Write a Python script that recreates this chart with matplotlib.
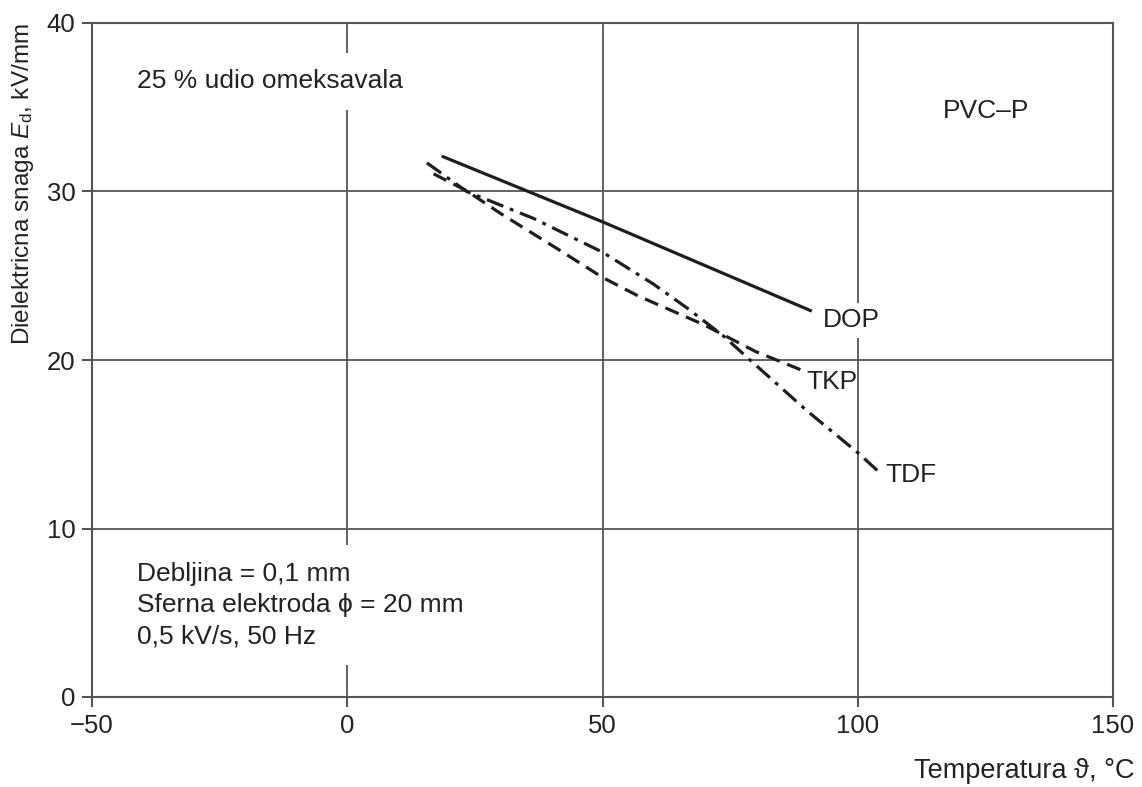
import matplotlib
matplotlib.use("Agg")
import matplotlib.pyplot as plt

plt.rcParams['font.family'] = ['Liberation Sans', 'DejaVu Sans']
plt.rcParams['mathtext.fontset'] = 'custom'
plt.rcParams['mathtext.it'] = 'Liberation Sans:italic'
plt.rcParams['mathtext.rm'] = 'Liberation Sans'

# Data
dop_x = [18.5, 50.0, 91.0]
dop_y = [32.1, 28.2, 22.9]

tkp_x = [16.9, 23.4, 30.0, 41.7, 50.0, 57.0, 69.8, 80.0, 89.0]
tkp_y = [31.05, 30.04, 28.7, 26.5, 24.9, 23.8, 22.1, 20.5, 19.4]

tdf_x = [15.6, 23.4, 36.5, 50.0, 60.0, 66.5, 73.6, 78.9, 90.0, 100.0, 104.0]
tdf_y = [31.7, 30.0, 28.4, 26.4, 24.5, 23.1, 21.45, 20.0, 17.0, 14.5, 13.4]

xticks = [-50, 0, 50, 100, 150]
xticklabels = ["\u221250", "0", "50", "100", "150"]
yticks = [0, 10, 20, 30, 40]

W, H = 1142, 787
fig = plt.figure(figsize=(W / 100, H / 100), dpi=100)
ax = fig.add_axes([92 / W, 1 - 697 / H, (1113 - 92) / W, (697 - 23) / H])

ax.set_xlim(-50, 150)
ax.set_ylim(0, 40)
ax.set_xticks(xticks)
ax.set_yticks(yticks)
ax.set_xticklabels(xticklabels)

gc = '#555555'
tc = '#222222'
for s in ax.spines.values():
    s.set_color(gc)
    s.set_linewidth(1.5)
ax.tick_params(direction='out', length=7, width=1.5, color=gc,
               labelsize=18.5, labelcolor=tc, pad=5)
ax.grid(True, color=gc, linewidth=1.3, zorder=0)
ax.set_axisbelow(True)

lc = '#1e1e1e'
ax.plot(dop_x, dop_y, color=lc, lw=2.3, solid_capstyle='butt', zorder=3)
ax.plot(tkp_x, tkp_y, color=lc, lw=2.3, dashes=(4.5, 2.5), zorder=3)
ax.plot(tdf_x, tdf_y, color=lc, lw=2.3, dashes=(5.5, 2.2, 1.2, 2.2), zorder=3)

fs = 19
tkw = dict(fontsize=fs, color=tc, zorder=4)
bb = dict(facecolor='white', edgecolor='none', pad=4)
ax.text(93.2, 22.35, "DOP", va='center', ha='left', bbox=bb, **tkw)
ax.text(90.0, 18.7, "TKP", va='center', ha='left', **tkw)
ax.text(105.4, 13.2, "TDF", va='center', ha='left', **tkw)
ax.text(116.6, 34.8, "PVC\u2013P", va='center', ha='left', **tkw)

ax.text(-41.1, 36.55, "25 % udio omeksavala", va='center', ha='left',
        bbox=dict(facecolor='white', edgecolor='none', pad=12), **tkw)
ax.text(-41.1, 5.45, "Debljina = 0,1 mm\nSferna elektroda \u03d5 = 20 mm\n0,5 kV/s, 50 Hz",
        va='center', ha='left', linespacing=1.39,
        bbox=dict(facecolor='white', edgecolor='none', pad=12), **tkw)

ax.set_ylabel("Dielektricna snaga $E_{\\mathrm{d}}$, kV/mm", loc='top',
              fontsize=17.5, color=tc)
ax.yaxis.set_label_coords((36 - 92) / (1113 - 92), 1.0)

fig.text(1135 / W, 1 - 771 / H, "Temperatura \u03d1, \u00b0C", ha='right', va='center',
         fontsize=19.5, color=tc)

fig.savefig("out.png", dpi=100, facecolor='white')
